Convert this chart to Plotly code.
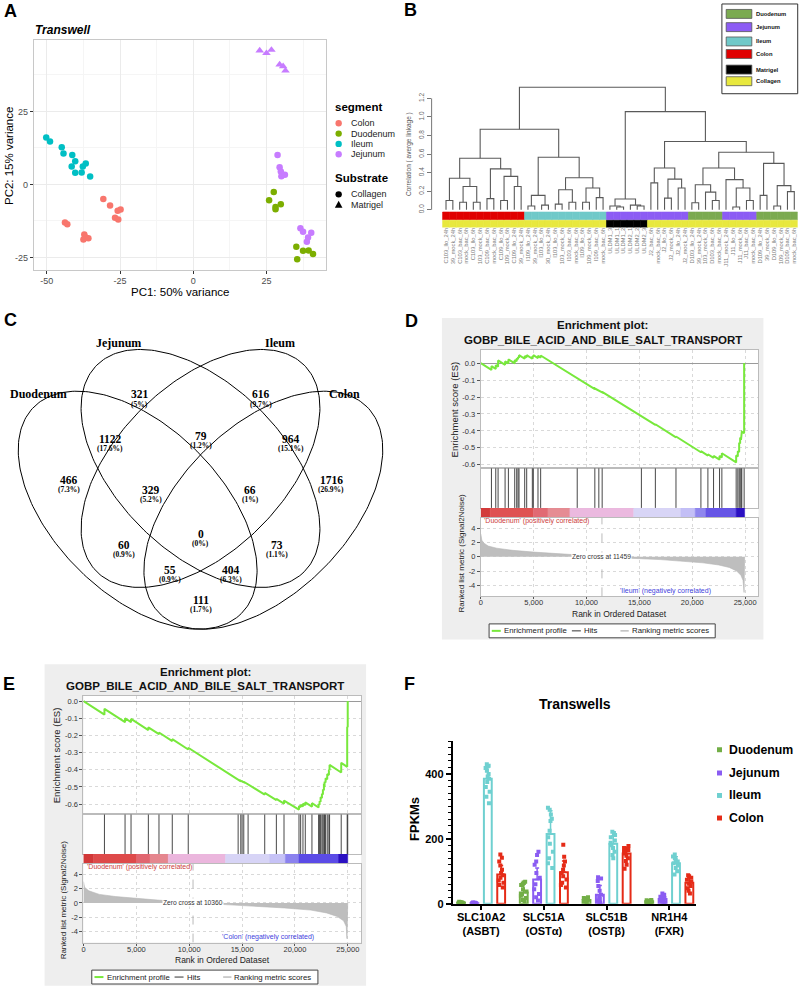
import math
import plotly.graph_objects as go

W, H = 800, 992
SANS = "Liberation Sans, Arial, sans-serif"
SERIF = "Liberation Serif, Times New Roman, serif"

# ===================== DATA =====================
# ---- Panel A: PCA ----
A_colon_pc1 = [-30.7, -28.4, -25.8, -24.8, -26.7, -25.6, -43.8, -43.0, -37.2, -36.7, -37.5, -35.8]
A_colon_pc2 = [-5.0, -7.2, -9.0, -8.6, -11.4, -12.0, -13.0, -13.6, -17.1, -18.2, -18.8, -18.4]
A_duod_pc1 = [27.5, 25.9, 28.1, 28.1, 29.9, 35.2, 35.5, 37.5, 39.4, 40.9]
A_duod_pc2 = [-2.6, -5.4, -7.7, -8.5, -6.8, -21.3, -25.6, -22.7, -22.6, -23.8]
A_ileum_pc1 = [-50.2, -48.9, -44.9, -44.3, -41.3, -40.3, -41.5, -40.3, -37.7, -36.7, -38.1, -35.2]
A_ileum_pc2 = [16.1, 14.7, 12.7, 10.6, 10.1, 7.9, 6.1, 4.0, 6.1, 7.2, 4.1, 2.7]
A_jej_col_pc1 = [28.8, 29.5, 29.9, 30.1, 31.3, 36.6, 37.5, 40.3, 39.2, 38.8]
A_jej_col_pc2 = [10.1, 5.9, 4.4, 2.8, 3.3, -15.0, -16.2, -16.5, -18.2, -19.6]
A_jej_mat_pc1 = [22.7, 25.0, 26.7, 29.5, 30.7, 31.5]
A_jej_mat_pc2 = [45.8, 44.9, 46.0, 41.0, 40.4, 38.9]
A_segments = ["Colon", "Duodenum", "Ileum", "Jejunum"]
A_substrates = ["Collagen", "Matrigel"]
A_xticks = [-50, -25, 0, 25]
A_yticks = [-25, 0, 25]

# ---- Panel B: dendrogram ----
B_leaves = [
    "C103_llo_24h", "39_mock_24h", "C103_bac_6h", "mock_bac_6h", "C103_llo_6h", "103_mock_6h",
    "C109_bac_6h", "mock_bac_6h", "C109_llo_6h", "109_mock_6h", "C109_llo_24h", "39_mock_24h",
    "I109_llo_24h", "39_mock_24h", "I103_llo_6h", "30_mock_24h", "I103_llo_6h", "103_mock_6h",
    "I103_bac_6h", "mock_bac_6h", "I109_llo_6h", "109_mock_6h", "I109_bac_6h", "mock_bac_6h",
    "ULDM1_3", "ULDM1_1", "ULDM1_2", "ULDM2_1", "ULDM2_2", "ULDM2_3",
    "J2_bac_6h", "mock_bac_6h", "J2_llo_6h", "J2_mock_6h", "J2_llo_24h", "J2_mock_24h",
    "D103_llo_24h", "39_mock_24h", "103_mock_6h", "D103_bac_6h", "mock_bac_6h",
    "J11_mock_24h", "J11_llo_6h", "J11_mock_6h", "J11_bac_6h", "mock_bac_6h",
    "D109_llo_24h", "39_mock_6h", "D109_llo_6h", "109_mock_6h", "D109_bac_6h", "mock_bac_6h"]
# merges: (left node, right node, height); node >= 52 refers to merge (node-52)
B_merges = [
    (0, 1, 0.10), (2, 3, 0.08), (4, 5, 0.08), (53, 54, 0.25), (52, 55, 0.34),
    (6, 7, 0.12), (8, 9, 0.10), (10, 11, 0.25), (58, 59, 0.36), (57, 60, 0.44),
    (56, 61, 0.555),
    (12, 13, 0.04), (14, 15, 0.05), (63, 64, 0.155), (16, 17, 0.06), (18, 19, 0.08),
    (66, 67, 0.215), (20, 21, 0.08), (22, 23, 0.13), (69, 70, 0.235), (68, 71, 0.345),
    (65, 72, 0.565), (62, 73, 0.868),
    (25, 26, 0.03), (24, 75, 0.04), (28, 29, 0.04), (27, 77, 0.05), (76, 78, 0.115),
    (30, 31, 0.29), (32, 33, 0.125), (34, 35, 0.235), (81, 82, 0.33), (80, 83, 0.45),
    (36, 37, 0.075), (39, 40, 0.10), (38, 86, 0.19), (85, 87, 0.27),
    (42, 43, 0.03), (44, 45, 0.10), (89, 90, 0.235), (41, 91, 0.325), (88, 92, 0.45),
    (46, 47, 0.155), (48, 49, 0.04), (50, 51, 0.195), (95, 96, 0.26), (94, 97, 0.50),
    (93, 98, 0.62), (84, 99, 0.735), (79, 100, 1.057), (74, 101, 1.32)]
B_row1_runs = [("Colon", 12), ("Ileum", 12), ("Jejunum", 12), ("Duodenum", 5), ("Jejunum", 5), ("Duodenum", 6)]
B_row2_runs = [("Collagen", 24), ("Matrigel", 6), ("Collagen", 22)]
B_yticks = [0.0, 0.2, 0.4, 0.6, 0.8, 1.0, 1.2]
B_legend = ["Duodenum", "Jejunum", "Ileum", "Colon", "Matrigel", "Collagen"]

# ---- Panel C: Venn ----
C_sets = ["Duodenum", "Jejunum", "Ileum", "Colon"]
C_counts = [321, 616, 466, 1716, 1122, 79, 964, 329, 66, 60, 0, 73, 55, 404, 111]
C_pcts = ["5%", "9.7%", "7.3%", "26.9%", "17.6%", "1.2%", "15.1%", "5.2%", "1%",
          "0.9%", "0%", "1.1%", "0.9%", "6.3%", "1.7%"]

# ---- Panel D: GSEA Duodenum vs Ileum ----
D_es_rank = [0, 1006, 1006, 1415, 1415, 1635, 1635, 2296, 2296, 2610, 2610, 3208, 3208,
             3396, 3396, 3522, 3522, 3616, 3616, 4151, 4151, 4340, 4340, 4874, 4874,
             4969, 4969, 5409, 5409, 5660, 5660, 9119, 9119, 10786, 10786, 11164, 11164,
             11478, 11478, 15189, 15189, 16509, 16509, 18459, 18459, 20818, 20818,
             21478, 21478, 22013, 22013, 22579, 22579, 22799, 22799, 24151, 24151,
             24308, 24308, 24434, 24434, 24528, 24528, 24623, 24623, 24686, 24686,
             24906, 24906]
D_es_value = [0.0, -0.040, -0.018, -0.034, -0.012, -0.021, 0.016, -0.010, 0.010, -0.002,
              0.022, -0.002, 0.018, 0.011, 0.028, 0.023, 0.036, 0.032, 0.047, 0.026,
              0.042, 0.034, 0.047, 0.026, 0.040, 0.036, 0.047, 0.030, 0.043, 0.033,
              0.045, -0.092, -0.088, -0.154, -0.150, -0.165, -0.161, -0.173, -0.170,
              -0.317, -0.313, -0.365, -0.361, -0.438, -0.433, -0.526, -0.520, -0.546,
              -0.538, -0.559, -0.548, -0.570, -0.548, -0.557, -0.532, -0.586, -0.545,
              -0.551, -0.520, -0.525, -0.470, -0.474, -0.440, -0.444, -0.410, -0.412,
              -0.405, -0.414, 0.0]
D_hits = [1006, 1415, 1635, 2296, 2610, 3208, 3396, 3522, 3616, 4151, 4340, 4874, 4969,
          5409, 5660, 9119, 10786, 11164, 11478, 15189, 16509, 18459, 20818, 21478,
          22013, 22579, 22799, 24151, 24308, 24434, 24528, 24623, 24686, 24906]
D_cb_edges = [0, 880, 4970, 6352, 8430, 14465, 18930, 20280, 21290, 24150, 24950]
D_cb_colors = ["#D23A3A", "#DF5252", "#E16A73", "#E58C93", "#EBB9DF", "#D8D5F6",
               "#C3BFF6", "#8F86EE", "#6655E6", "#2B10C2"]
D_metric_rank = [0, 100, 300, 700, 1500, 3000, 5000, 7000, 9000, 11459, 14000, 17000,
                 19000, 21000, 22500, 23500, 24200, 24600, 24800, 24900, 24950]
D_metric_value = [3.2, 2.3, 1.9, 1.5, 1.2, 0.9, 0.65, 0.45, 0.25, 0.0, -0.2, -0.4,
                  -0.6, -0.85, -1.15, -1.5, -2.0, -2.6, -3.3, -5.0, 0.0]
D_zero_cross = 11459
D_labels = ["'Duodenum' (positively correlated)", "'Ileum' (negatively correlated)"]

# ---- Panel E: GSEA Duodenum vs Colon ----
E_es_rank = [0, 1981, 1981, 3931, 3931, 4497, 4497, 6133, 6133, 7139, 7139, 8397, 8397,
             9907, 9907, 14624, 14624, 14876, 14876, 15001, 15001, 15158, 15158, 15567,
             15567, 17140, 17140, 18241, 18241, 18964, 18964, 20380, 20380, 20537, 20537,
             20757, 20757, 20977, 20977, 21606, 21606, 22235, 22235, 22330, 22330, 22424,
             22424, 22550, 22550, 22644, 22644, 22739, 22739, 22801, 22801, 22896, 22896,
             23053, 23053, 23210, 23210, 23273, 23273, 24374, 24374, 24940, 24940, 24990,
             24990]
E_es_value = [0.0, -0.079, -0.045, -0.123, -0.100, -0.123, -0.104, -0.169, -0.153, -0.193,
              -0.183, -0.233, -0.222, -0.282, -0.272, -0.461, -0.458, -0.468, -0.465,
              -0.470, -0.467, -0.473, -0.470, -0.486, -0.482, -0.545, -0.535, -0.577,
              -0.570, -0.598, -0.580, -0.632, -0.612, -0.618, -0.605, -0.614, -0.598,
              -0.607, -0.590, -0.615, -0.595, -0.620, -0.600, -0.604, -0.583, -0.587,
              -0.560, -0.565, -0.540, -0.544, -0.515, -0.519, -0.490, -0.492, -0.470,
              -0.474, -0.450, -0.456, -0.425, -0.431, -0.400, -0.403, -0.372, -0.416,
              -0.360, -0.383, -0.150, -0.152, 0.0]
E_hits = [1981, 3931, 4497, 6133, 7139, 8397, 9907, 14624, 14876, 15001, 15158, 15567,
          17140, 18241, 18964, 20380, 20537, 20757, 20977, 21606, 22235, 22330, 22424,
          22550, 22644, 22739, 22801, 22896, 23053, 23210, 23273, 24374, 24940, 24990]
E_cb_edges = [0, 944, 5032, 6290, 8020, 13430, 17610, 19090, 20380, 24120, 24990]
E_cb_colors = ["#D23838", "#DE4A4A", "#E16670", "#E5868E", "#EBB6DD", "#D7D4F6",
               "#C6C2F6", "#8B82EE", "#5B4BE6", "#2B10C2"]
E_metric_rank = [0, 100, 500, 1500, 3000, 5000, 7000, 9000, 10360, 13000, 16000, 19000,
                 21500, 23000, 24000, 24600, 24850, 24920, 24990]
E_metric_value = [3.0, 2.2, 1.7, 1.2, 0.9, 0.6, 0.4, 0.2, 0.0, -0.2, -0.4, -0.7,
                  -1.0, -1.4, -1.9, -2.5, -3.3, -5.0, 0.0]
E_zero_cross = 10360
E_labels = ["'Duodenum' (positively correlated)", "'Colon' (negatively correlated)"]
GSEA_title = ["Enrichment plot:", "GOBP_BILE_ACID_AND_BILE_SALT_TRANSPORT"]

# ---- Panel F: FPKM bars ----
F_genes = ["SLC10A2<br>(ASBT)", "SLC51A<br>(OSTα)", "SLC51B<br>(OSTβ)", "NR1H4<br>(FXR)"]
F_segments = ["Duodenum", "Jejunum", "Ileum", "Colon"]
F_mean_duodenum = [3, 35, 12, 8]
F_mean_jejunum = [2, 75, 28, 15]
F_mean_ileum = [385, 215, 185, 125]
F_mean_colon = [90, 97, 155, 65]
F_sd_duodenum = [2, 25, 6, 3]
F_sd_jejunum = [1, 35, 28, 10]
F_sd_ileum = [35, 72, 25, 20]
F_sd_colon = [28, 35, 20, 18]
F_pts_duodenum = [[1, 2, 2, 3, 3, 4, 4, 5, 6, 3],
                  [8, 12, 18, 25, 30, 38, 45, 58, 62, 66, 68],
                  [5, 7, 9, 10, 11, 12, 14, 16, 18, 20],
                  [4, 5, 6, 7, 8, 8, 9, 10, 11, 12]]
F_pts_jejunum = [[1, 1, 2, 2, 2, 3, 3, 4, 1, 2],
                 [10, 20, 30, 45, 60, 80, 95, 120, 130, 150, 160],
                 [3, 6, 10, 15, 20, 28, 40, 55, 70, 78, 82],
                 [3, 6, 8, 10, 13, 15, 18, 22, 28, 32]]
F_pts_ileum = [[310, 330, 345, 360, 375, 385, 392, 400, 410, 418, 425, 430],
               [110, 125, 140, 160, 185, 205, 225, 255, 262, 275, 290, 296],
               [140, 150, 160, 172, 180, 188, 195, 205, 212, 218, 222],
               [90, 100, 110, 118, 125, 130, 135, 140, 146, 152]]
F_pts_colon = [[50, 58, 65, 72, 80, 88, 95, 105, 118, 130, 142, 152],
               [50, 58, 65, 75, 85, 95, 105, 118, 130, 145, 182],
               [108, 120, 132, 140, 148, 155, 160, 166, 172, 178],
               [32, 40, 48, 55, 62, 68, 74, 80, 85, 88]]
F_yticks = [0, 200, 400]

# ===================== HELPERS =====================
def fx(p):
    return p / W


def fy(p):
    return 1 - p / H


axes_layout = {}
traces = []
ann = []
shapes = []


def axes(n, l, r, t, b, xrange, yrange, xo=None, yo=None):
    sx = '' if n == 1 else str(n)
    base = dict(showgrid=False, zeroline=False, showticklabels=False, ticks='',
                showline=False, fixedrange=True)
    xa = dict(base, domain=[fx(l), fx(r)], range=xrange, anchor='y' + sx)
    ya = dict(base, domain=[fy(b), fy(t)], range=yrange, anchor='x' + sx)
    if xo:
        xa.update(xo)
    if yo:
        ya.update(yo)
    axes_layout['xaxis' + sx] = xa
    axes_layout['yaxis' + sx] = ya
    return 'x' + sx, 'y' + sx


def text(x, y, s, size, color='black', family=SANS, bold=False, italic=False,
         xanchor='center', yanchor='middle', angle=0, bg=None, xref='paper', yref='paper'):
    if bold:
        s = '<b>' + s + '</b>'
    if italic:
        s = '<i>' + s + '</i>'
    d = dict(x=fx(x) if xref == 'paper' else x, y=fy(y) if yref == 'paper' else y,
             xref=xref, yref=yref, text=s, showarrow=False,
             font=dict(size=size, color=color, family=family),
             xanchor=xanchor, yanchor=yanchor, textangle=angle, borderpad=0)
    if bg:
        d['bgcolor'] = bg
    ann.append(d)


def rect(x0, y0, x1, y1, fill, line=None, lw=0, layer='above'):
    shapes.append(dict(type='rect', xref='paper', yref='paper', x0=fx(x0), x1=fx(x1),
                       y0=fy(y1), y1=fy(y0), fillcolor=fill,
                       line=dict(color=line or fill, width=lw), layer=layer))


def seg(x0, y0, x1, y1, color, w=1.0, dash='solid'):
    shapes.append(dict(type='line', xref='paper', yref='paper', x0=fx(x0), x1=fx(x1),
                       y0=fy(y0), y1=fy(y1), line=dict(color=color, width=w, dash=dash)))


def circle(cx, cy, r, color):
    shapes.append(dict(type='circle', xref='paper', yref='paper', x0=fx(cx - r), x1=fx(cx + r),
                       y0=fy(cy + r), y1=fy(cy - r), fillcolor=color, line=dict(width=0)))


def triangle(cx, cy, r, color):
    p = (f"M {fx(cx - r)} {fy(cy + r * 0.85)} L {fx(cx + r)} {fy(cy + r * 0.85)} "
         f"L {fx(cx)} {fy(cy - r)} Z")
    shapes.append(dict(type='path', xref='paper', yref='paper', path=p, fillcolor=color,
                       line=dict(width=0)))


# panel letters
for L_, x_, y_ in [("A", 9, 11), ("B", 410, 10), ("C", 9, 322), ("D", 411, 323),
                   ("E", 7, 688), ("F", 409, 688)]:
    text(x_, y_, L_, 18, bold=True)

# ===================== PANEL A =====================
A_colors = ["#F8766D", "#7CAE00", "#00BFC4", "#C77CFF"]
xa_, ya_ = axes(
    1, 32, 325, 40, 272, [-54.4, 45.4], [-29.4, 49.5],
    xo=dict(tickvals=A_xticks, ticktext=[str(v) for v in A_xticks], showticklabels=True,
            ticks='outside', ticklen=3, tickcolor='#333333', ticklabelstandoff=-1,
            tickfont=dict(size=9, color='#4D4D4D', family=SANS),
            showgrid=True, gridcolor='#EBEBEB', gridwidth=1,
            minor=dict(tickvals=[-37.5, -12.5, 12.5, 37.5], showgrid=True,
                       gridcolor='#F5F5F5', gridwidth=0.6),
            showline=True, linecolor='#C8C8C8', linewidth=1, mirror=True),
    yo=dict(tickvals=A_yticks, ticktext=[str(v) for v in A_yticks], showticklabels=True,
            ticks='outside', ticklen=3, tickcolor='#333333',
            tickfont=dict(size=9, color='#4D4D4D', family=SANS),
            showgrid=True, gridcolor='#EBEBEB', gridwidth=1,
            minor=dict(tickvals=[-12.5, 12.5, 37.5], showgrid=True,
                       gridcolor='#F5F5F5', gridwidth=0.6),
            showline=True, linecolor='#C8C8C8', linewidth=1, mirror=True))
for xs, ys, col, sym, sz in [
        (A_colon_pc1, A_colon_pc2, A_colors[0], 'circle', 6.5),
        (A_duod_pc1, A_duod_pc2, A_colors[1], 'circle', 6.5),
        (A_ileum_pc1, A_ileum_pc2, A_colors[2], 'circle', 6.5),
        (A_jej_col_pc1, A_jej_col_pc2, A_colors[3], 'circle', 6.5),
        (A_jej_mat_pc1, A_jej_mat_pc2, A_colors[3], 'triangle-up', 7.5)]:
    traces.append(go.Scatter(x=xs, y=ys, mode='markers', xaxis=xa_, yaxis=ya_,
                             marker=dict(color=col, size=sz, symbol=sym, line=dict(width=0))))
text(32, 30, "Transwell", 12, bold=True, italic=True, xanchor='left')
text(178.5, 294, "PC1: 50% variance", 11.5)
text(7, 157, "PC2: 15% variance", 11.5, angle=-90)
text(333, 108, "segment", 11.5, bold=True, xanchor='left')
for i, (name, col) in enumerate(zip(A_segments, A_colors)):
    cy = 124 + i * 10.4
    circle(337.5, cy, 3.2, col)
    text(349, cy, name, 9, color='#222222', xanchor='left')
text(333, 179.5, "Substrate", 11.5, bold=True, xanchor='left')
circle(337.5, 195.5, 3.2, 'black')
text(349, 195.5, A_substrates[0], 9, color='#222222', xanchor='left')
triangle(337.5, 205.8, 3.8, 'black')
text(349, 205.8, A_substrates[1], 9, color='#222222', xanchor='left')

# ===================== PANEL B =====================
B_colors = {"Duodenum": "#7BAA50", "Jejunum": "#8C5CF4", "Ileum": "#70C9C9",
            "Colon": "#E00000", "Matrigel": "#000000", "Collagen": "#E8E83E"}
leaf_w = (797.7 - 441.7) / len(B_leaves)
leaf0 = 441.7 + leaf_w / 2
hscale = 93.33  # px per unit height
h0 = 211.0      # px of height 0
B_l, B_r, B_t, B_b = 430.7, 797.7, 80, 229
xb, yb = axes(
    2, B_l, B_r, B_t, B_b,
    [(B_l - leaf0) / leaf_w, (B_r - leaf0) / leaf_w],
    [(h0 - B_b) / hscale, (h0 - B_t) / hscale],
    xo=dict(tickvals=list(range(len(B_leaves))), ticktext=B_leaves, showticklabels=True,
            tickangle=-90, ticklabelstandoff=-2,
            tickfont=dict(size=5.8, color='#7A7A7A', family=SANS)),
    yo=dict(tickvals=B_yticks, ticktext=[f"{v:.1f}" for v in B_yticks], showticklabels=True,
            tickangle=-90, ticks='outside', ticklen=4, tickcolor='#777777',
            tickfont=dict(size=6.5, color='#666666', family=SANS)))
nleaf = len(B_leaves)
node_x = {i: float(i) for i in range(nleaf)}
node_h = {i: 0.0 for i in range(nleaf)}
dxs, dys = [], []
for k, (a, b, h) in enumerate(B_merges):
    xa0, xb0 = node_x[a], node_x[b]
    dxs += [xa0, xa0, xb0, xb0, None]
    dys += [node_h[a], h, h, node_h[b], None]
    node_x[nleaf + k] = (xa0 + xb0) / 2
    node_h[nleaf + k] = h
traces.append(go.Scatter(x=dxs, y=dys, mode='lines', xaxis=xb, yaxis=yb,
                         line=dict(color='#595959', width=1.1)))


def runs_to_colors(runs):
    out = []
    for name, n in runs:
        out += [B_colors[name]] * n
    return out


for runs, top_px, bot_px in [(B_row1_runs, 213.3, 221.0), (B_row2_runs, 221.7, 229.0)]:
    cols = runs_to_colors(runs)
    base = (h0 - bot_px) / hscale
    height = (bot_px - top_px) / hscale
    traces.append(go.Bar(x=list(range(nleaf)), y=[height] * nleaf, base=base, width=1,
                         xaxis=xb, yaxis=yb,
                         marker=dict(color=cols, line=dict(color=cols, width=0.6))))
shapes.append(dict(type='line', xref='paper', yref=yb, x0=fx(B_l), x1=fx(B_l), y0=0, y1=1.2,
                   line=dict(color='#777777', width=1)))
text(408, 155, "Correlation ( averge linkage )", 6.5, color='#555555', angle=-90)
# legend box
rect(721.7, 4, 797.7, 94.3, 'white', line='#333333', lw=1)
for name, cy in zip(B_legend, [14, 27.3, 41.7, 54.3, 70, 81.7]):
    rect(726, cy - 4.5, 751.7, cy + 4.5, B_colors[name], line='#555555', lw=0.8)
    text(755, cy, name, 5.8, color='#111111', bold=True, xanchor='left')

# ===================== PANEL C =====================
C_scale = 420.0
C_cx_px, C_y0_px = 199.0, 710.7


def cu(p):
    return 0.5 + (p - C_cx_px) / C_scale


def cv(p):
    return (C_y0_px - p) / C_scale


xc, yc = axes(3, 0, 400, 320, 650, [cu(0), cu(400)], [cv(650), cv(320)])
ell_cx = [0.35, 0.5, 0.5, 0.65]
ell_cy = [0.47, 0.57, 0.57, 0.47]
ell_rot = [-45, -45, 45, 45]
ea, eb = 0.35, 0.2
for cx, cy, rot in zip(ell_cx, ell_cy, ell_rot):
    th = math.radians(rot)
    us, vs = [], []
    for k in range(241):
        t = 2 * math.pi * k / 240
        us.append(cx + ea * math.cos(t) * math.cos(th) - eb * math.sin(t) * math.sin(th))
        vs.append(cy + ea * math.cos(t) * math.sin(th) + eb * math.sin(t) * math.cos(th))
    traces.append(go.Scatter(x=us, y=vs, mode='lines', xaxis=xc, yaxis=yc,
                             line=dict(color='black', width=1)))
C_label_px = [(138.3, 396.7), (260, 396.7), (66.7, 482.7), (330, 482.7), (108.3, 441.7),
              (199, 438.3), (289.7, 441.7), (149, 492.7), (249, 492.7), (122.3, 548.3),
              (199, 537.3), (275.7, 548.3), (168.3, 573.3), (229.7, 573.3), (199, 603.3)]
for (px_, py_), cnt, pct in zip(C_label_px, C_counts, C_pcts):
    text(cu(px_), cv(py_), str(cnt), 11.5, family=SERIF, bold=True, xref=xc, yref=yc)
    text(cu(px_), cv(py_ + 10), f"({pct})", 7.5, family=SERIF, bold=True, xref=xc, yref=yc)
for name, (px_, py_) in zip(C_sets, [(36.7, 396.7), (116.7, 345), (278.3, 345), (343.3, 396.7)]):
    text(px_, py_, name, 12, family=SERIF, bold=True)


# ===================== PANELS D & E (GSEA) =====================
def gsea_panel(ox, oy, n0, es_r, es_v, es_rng, hits, cb_edges, cb_cols, m_r, m_v, zc, labels):
    L, R = 81.7 + ox, 360 + ox
    es_t, es_b = 700 + oy, 819.3 + oy
    hit_b, cb_b, m_b = 859.3 + oy, 869.3 + oy, 948.3 + oy
    xr = [0, 26255]
    rect(42.7 + ox, 668.3 + oy, 365 + ox, 991.7 + oy, '#EEEEEE', layer='below')
    rect(L, es_t, R, m_b, 'white', layer='below')
    frame = dict(showline=True, mirror=True, linecolor='#BBBBBB', linewidth=1)
    xt = [0, 5000, 10000, 15000, 20000, 25000]
    grid = dict(showgrid=True, gridcolor='#D9D9D9', griddash='dot', gridwidth=1)
    tf = dict(size=7.5, color='#333333', family=SANS)
    # ES
    es_ticks = [0.0, -0.1, -0.2, -0.3, -0.4, -0.5, -0.6]
    x1, y1 = axes(n0, L, R, es_t, es_b, xr, es_rng,
                  xo=dict(frame, tickvals=xt, **grid),
                  yo=dict(frame, tickvals=es_ticks, ticktext=[f"{v:.1f}" for v in es_ticks],
                          showticklabels=True, ticks='outside', ticklen=3, tickcolor='#555555',
                          tickfont=tf, zeroline=True, zerolinecolor='#9A9A9A',
                          zerolinewidth=1, **grid))
    traces.append(go.Scatter(x=es_r, y=es_v, mode='lines', xaxis=x1, yaxis=y1,
                             line=dict(color='#78E83C', width=2)))
    # hits
    x2, y2 = axes(n0 + 1, L, R, es_b, hit_b, xr, [0, 1], xo=frame, yo=frame)
    hx, hy = [], []
    for h in hits:
        hx += [h, h, None]
        hy += [0, 1, None]
    traces.append(go.Scatter(x=hx, y=hy, mode='lines', xaxis=x2, yaxis=y2,
                             line=dict(color='#333333', width=0.9)))
    # color bar
    x3, y3 = axes(n0 + 2, L, R, hit_b, cb_b, xr, [0, 1])
    centers = [(cb_edges[i] + cb_edges[i + 1]) / 2 for i in range(len(cb_cols))]
    widths = [cb_edges[i + 1] - cb_edges[i] for i in range(len(cb_cols))]
    traces.append(go.Bar(x=centers, y=[1] * len(centers), base=0, width=widths,
                         xaxis=x3, yaxis=y3,
                         marker=dict(color=cb_cols, line=dict(color=cb_cols, width=0.5))))
    # metric
    mt = [4, 2, 0, -2, -4]
    x4, y4 = axes(n0 + 3, L, R, cb_b, m_b, xr, [-5.55, 5.45],
                  xo=dict(frame, tickvals=xt, ticktext=['0', '5,000', '10,000', '15,000',
                                                        '20,000', '25,000'],
                          showticklabels=True, ticks='outside', ticklen=2,
                          ticklabelstandoff=-3,
                          tickcolor='#555555', tickfont=tf, **grid),
                  yo=dict(frame, tickvals=mt, ticktext=[str(v) for v in mt],
                          showticklabels=True, ticks='outside', ticklen=3,
                          tickcolor='#555555', tickfont=tf, **grid))
    traces.append(go.Scatter(x=m_r, y=m_v, mode='lines', fill='tozeroy', xaxis=x4, yaxis=y4,
                             fillcolor='#BEBEBE', line=dict(color='#B5B5B5', width=0.6)))
    shapes.append(dict(type='line', xref=x4, yref=y4, x0=zc, x1=zc, y0=-5.55, y1=5.45,
                       line=dict(color='#A8A8A8', width=0.8, dash='dash')))
    text(zc, 0, f"Zero cross at {zc}", 6.7, color='#333333', xref=x4, yref=y4, bg='white')
    text(200, 5.0, labels[0], 7, color='#CC4040', xanchor='left', xref=x4, yref=y4)
    text(21900, -4.8, labels[1], 7, color='#4242DD', xanchor='right', xref=x4, yref=y4)
    # titles / axis labels
    text(203.9 + ox, 675.7 + oy, GSEA_title[0], 11.5, color='#111111', bold=True)
    text(203.9 + ox, 690 + oy, GSEA_title[1], 11.5, color='#111111', bold=True)
    text(55 + ox, 760 + oy, "Enrichment score (ES)", 9.5, color='#222222', angle=-90)
    text(62 + ox, 905 + oy, "Ranked list metric (Signal2Noise)", 8, color='#222222', angle=-90)
    text(221 + ox, 966 + oy, "Rank in Ordered Dataset", 8.5, color='#222222')
    # legend
    rect(90 + ox, 976 + oy, 316.7 + ox, 990 + oy, 'white', line='#444444', lw=1)
    cy = 983 + oy
    seg(92.7 + ox, cy, 101.7 + ox, cy, '#78E83C', 2)
    text(104 + ox, cy, "Enrichment profile", 7.8, color='#222222', xanchor='left')
    seg(173 + ox, cy, 182 + ox, cy, '#333333', 1)
    text(184 + ox, cy, "Hits", 7.8, color='#222222', xanchor='left')
    seg(221.7 + ox, cy, 230 + ox, cy, '#BEBEBE', 1.5)
    text(232 + ox, cy, "Ranking metric scores", 7.8, color='#222222', xanchor='left')


gsea_panel(398.3, -348.3, 4, D_es_rank, D_es_value, [-0.62, 0.08], D_hits, D_cb_edges,
           D_cb_colors, D_metric_rank, D_metric_value, D_zero_cross, D_labels)
gsea_panel(0, 0, 8, E_es_rank, E_es_value, [-0.66, 0.031], E_hits, E_cb_edges,
           E_cb_colors, E_metric_rank, E_metric_value, E_zero_cross, E_labels)

# ===================== PANEL F =====================
F_colors = ["#72AE46", "#8A5CF2", "#6FD0D0", "#E52B17"]
F_offsets = [-0.32, -0.107, 0.107, 0.32]
xf, yf = axes(
    12, 451.7, 696, 746, 909.3, [-0.455, 3.43], [0, 500],
    xo=dict(tickvals=[0, 1, 2, 3], ticktext=['<b>' + g + '</b>' for g in F_genes],
            showticklabels=True, ticks='outside', ticklen=4, tickwidth=1.5, tickcolor='black',
            ticklabelstandoff=-2,
            tickfont=dict(size=11, color='black', family=SANS),
            showline=True, linecolor='black', linewidth=1.5),
    yo=dict(tickvals=F_yticks, ticktext=['<b>' + str(v) + '</b>' for v in F_yticks],
            showticklabels=True, ticks='outside', ticklen=5, tickwidth=1.5, tickcolor='black',
            tickfont=dict(size=11, color='black', family=SANS),
            minor=dict(tickmode='linear', tick0=0, dtick=20, ticks='outside', ticklen=2.5,
                       tickwidth=1, tickcolor='black'),
            showline=True, linecolor='black', linewidth=1.5))
F_means = [F_mean_duodenum, F_mean_jejunum, F_mean_ileum, F_mean_colon]
F_sds = [F_sd_duodenum, F_sd_jejunum, F_sd_ileum, F_sd_colon]
F_pts = [F_pts_duodenum, F_pts_jejunum, F_pts_ileum, F_pts_colon]
for j in range(4):
    xs = [g + F_offsets[j] for g in range(4)]
    traces.append(go.Bar(x=xs, y=F_means[j], width=0.125, xaxis=xf, yaxis=yf,
                         marker=dict(color='white', line=dict(color=F_colors[j], width=2)),
                         error_y=dict(type='data', symmetric=False, array=F_sds[j],
                                      arrayminus=[0] * 4, color=F_colors[j], thickness=1.5,
                                      width=2)))
for j in range(4):
    bx, by = [], []
    for g in range(4):
        bx += [g + F_offsets[j]] * len(F_pts[j][g])
        by += F_pts[j][g]
    traces.append(go.Box(x=bx, y=by, boxpoints='all', jitter=0.9, pointpos=0, width=0.11,
                         xaxis=xf, yaxis=yf, fillcolor='rgba(0,0,0,0)',
                         line=dict(width=0, color='rgba(0,0,0,0)'), whiskerwidth=0,
                         marker=dict(symbol='square', size=4, color=F_colors[j])))
text(574, 708, "Transwells", 14, bold=True)
text(413, 824, "FPKMs", 13, bold=True, angle=-90)
for j, (name, cy) in enumerate(zip(F_segments, [754.3, 777.7, 800.3, 823])):
    rect(716.8, cy - 2.5, 721.8, cy + 2.5, F_colors[j])
    text(728, cy, name, 12.3, bold=True, xanchor='left')

# ===================== FIGURE =====================
fig = go.Figure(data=traces)
fig.update_layout(width=W, height=H, margin=dict(l=0, r=0, t=0, b=0), showlegend=False,
                  paper_bgcolor='white', plot_bgcolor='rgba(0,0,0,0)', barmode='overlay',
                  boxmode='overlay', annotations=ann, shapes=shapes,
                  font=dict(family=SANS), **axes_layout)
fig.write_html("out.html", config={'displayModeBar': False},
               post_script="document.body.style.margin='0';document.body.style.padding='0';")
